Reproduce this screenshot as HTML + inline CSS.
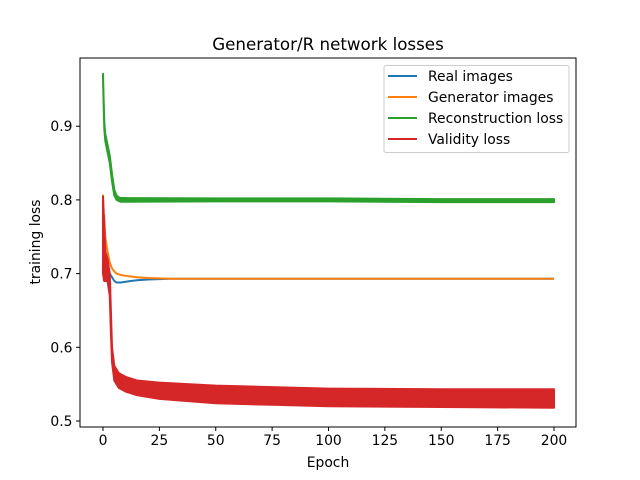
<!DOCTYPE html>
<html><head><meta charset="utf-8"><style>
body{margin:0;background:#fff}
svg{display:block;font-family:"DejaVu Sans","Liberation Sans",sans-serif}
</style></head><body>
<svg id="chart" width="640" height="480">
<rect x="0" y="0" width="640" height="480" fill="#fff"/>
<g id="plot"></g>
<rect x="80" y="58" width="496" height="369" fill="none" stroke="#000" stroke-width="1"/>
<g id="axes"></g>
<text x="328" y="50" text-anchor="middle" font-size="16.7">Generator/R network losses</text>
<text x="328" y="467" text-anchor="middle" font-size="13.9">Epoch</text>
<text transform="translate(40,242) rotate(-90)" text-anchor="middle" font-size="13.9">training loss</text>
<g>
<rect x="384" y="65.5" width="185" height="87" fill="#fff" fill-opacity="0.8" stroke="#ccc" rx="2"/>
<g><line x1="388" x2="417" y1="76" y2="76" stroke="#1f77b4" stroke-width="2"/><text x="428" y="81" font-size="13.9">Real images</text></g>
<g><line x1="388" x2="417" y1="97" y2="97" stroke="#ff7f0e" stroke-width="2"/><text x="428" y="102" font-size="13.9">Generator images</text></g>
<g><line x1="388" x2="417" y1="118" y2="118" stroke="#2ca02c" stroke-width="2"/><text x="428" y="123" font-size="13.9">Reconstruction loss</text></g>
<g><line x1="388" x2="417" y1="139" y2="139" stroke="#d62728" stroke-width="2"/><text x="428" y="144" font-size="13.9">Validity loss</text></g>
</g>
</svg>
<script>
const xTicks=[0,25,50,75,100,125,150,175,200];
const yTicks=[0.5,0.6,0.7,0.8,0.9];
const yTickLabels=["0.5","0.6","0.7","0.8","0.9"];
const blueX=[0,0.5,1,2,3,4,5,6,8,10,15,20,30,50,100,200];
const blueY=[0.725,0.72,0.715,0.71,0.70,0.695,0.69,0.688,0.688,0.689,0.691,0.692,0.693,0.693,0.693,0.693];
const orangeX=[0,0.2,0.5,1,1.5,2,3,4,5,6,8,10,15,20,30,50,100,200];
const orangeY=[0.807,0.70,0.78,0.75,0.74,0.73,0.715,0.707,0.703,0.700,0.698,0.697,0.695,0.694,0.693,0.693,0.693,0.693];
const greenX=[0,0.3,0.6,1,2,3,4,5,6,7,8,10,50,100,150,200];
const greenY=[0.968,0.93,0.90,0.885,0.87,0.855,0.83,0.81,0.803,0.801,0.8,0.8,0.8,0.8,0.799,0.799];
const greenW=[0.006,0.008,0.010,0.010,0.010,0.010,0.010,0.008,0.006,0.005,0.005,0.005,0.004,0.004,0.004,0.004];
const redX=[0,0.5,1,2,3,3.5,4,5,7,10,15,25,50,75,100,150,200];
const redHi=[0.805,0.77,0.73,0.72,0.70,0.65,0.60,0.575,0.565,0.56,0.555,0.552,0.548,0.546,0.544,0.543,0.543];
const redLo=[0.70,0.69,0.69,0.69,0.67,0.62,0.58,0.555,0.545,0.54,0.535,0.530,0.524,0.522,0.520,0.519,0.518];
const X=v=>103+(v/200)*451;
const Y=v=>421-(v-0.5)*737;
const NS="http://www.w3.org/2000/svg";
const plot=document.getElementById('plot'),axes=document.getElementById('axes');
function mk(tag,attrs,parent){const e=document.createElementNS(NS,tag);for(const k in attrs)e.setAttribute(k,attrs[k]);parent.appendChild(e);return e;}
function line(xs,ys,color,name){const d=xs.map((x,i)=>(i?'L':'M')+X(x).toFixed(2)+','+Y(ys[i]).toFixed(2)).join('');const p=mk('path',{d:d,fill:'none',stroke:color,'stroke-width':2},plot);}
function band(xs,hi,lo,color,name){let d=xs.map((x,i)=>(i?'L':'M')+X(x).toFixed(2)+','+Y(hi[i]).toFixed(2)).join('');for(let i=xs.length-1;i>=0;i--)d+='L'+X(xs[i]).toFixed(2)+','+Y(lo[i]).toFixed(2);d+='Z';const p=mk('path',{d:d,fill:color,stroke:color,'stroke-width':2,'stroke-linejoin':'round'},plot);}
band(greenX,greenY.map((v,i)=>v+greenW[i]/2),greenY.map((v,i)=>v-greenW[i]/2),'#2ca02c','reconstruction-loss-line');
line(blueX,blueY,'#1f77b4','real-images-line');
line(orangeX,orangeY,'#ff7f0e','generator-images-line');
band(redX,redHi,redLo,'#d62728','validity-loss-line');
xTicks.forEach(t=>{const g=mk('g',{},axes);mk('line',{x1:X(t),x2:X(t),y1:427,y2:431,stroke:'#000'},g);const tx=mk('text',{x:X(t),y:445,'text-anchor':'middle','font-size':13.9},g);tx.textContent=t;});
yTicks.forEach((t,i)=>{const g=mk('g',{},axes);mk('line',{x1:76,x2:80,y1:Y(t),y2:Y(t),stroke:'#000'},g);const tx=mk('text',{x:72.5,y:Y(t)+5,'text-anchor':'end','font-size':13.9},g);tx.textContent=yTickLabels[i];});
</script>
</body></html>
